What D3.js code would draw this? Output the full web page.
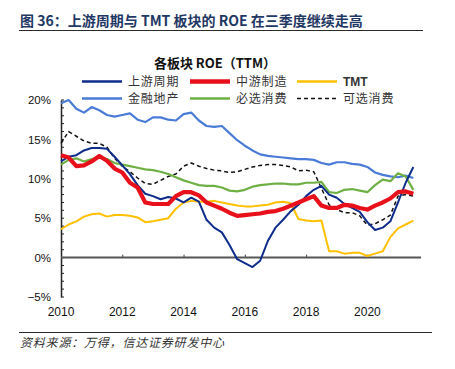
<!DOCTYPE html>
<html><head><meta charset="utf-8">
<script src="https://cdn.jsdelivr.net/npm/d3@7"></script>
<style>
html,body{margin:0;padding:0;background:#fff;}
svg{display:block;}
</style></head>
<body>
<script>
// quarterly data 2010Q1 .. 2021Q3
const startYear = 2010;
const upstream = [12.2,12.8,13.0,13.6,13.9,13.9,13.8,12.8,11.7,10.6,9.2,8.1,7.8,7.4,7.7,7.5,7.0,7.6,7.1,4.8,3.8,3.2,1.6,-0.2,-0.7,-1.2,-0.4,2.1,3.8,4.8,5.9,6.7,7.8,8.6,9.1,8.0,7.6,6.8,6.3,5.8,4.5,3.5,3.8,4.6,7.0,9.5,11.5];
const midstream = [13.0,12.7,11.6,11.7,12.2,12.9,12.3,11.3,10.8,9.5,8.9,7.0,6.8,6.8,6.8,7.8,8.3,8.3,7.9,7.0,6.6,6.2,5.7,5.3,5.4,5.5,5.6,5.8,5.9,6.2,6.6,7.0,7.4,7.8,6.6,6.3,6.3,6.7,6.6,6.3,6.1,6.6,7.0,7.5,8.3,8.4,8.1];
const tmt = [3.6,4.2,4.6,5.2,5.5,5.6,5.2,5.4,5.4,5.3,5.1,4.5,4.6,4.8,5.0,6.2,7.0,7.2,7.1,7.1,7.2,7.0,6.8,6.6,6.5,6.5,6.6,6.7,7.0,7.1,6.9,4.9,4.7,4.6,4.7,0.8,0.8,0.5,0.6,0.6,0.2,0.5,0.8,2.6,3.7,4.2,4.7];
const finance = [19.6,20.0,18.9,18.4,19.1,18.7,18.1,17.9,18.1,18.3,17.5,17.2,17.8,17.8,17.5,17.4,18.2,18.4,17.4,16.7,16.6,16.7,15.8,14.9,14.2,13.6,13.1,12.9,12.8,12.7,12.6,12.5,12.5,12.4,12.0,11.8,12.1,12.1,11.9,11.8,11.5,10.8,10.5,10.3,10.2,10.4,10.1];
const staples = [11.8,12.4,12.6,12.2,12.5,12.7,12.5,12.0,11.8,11.6,11.4,11.2,11.1,10.9,10.6,10.2,9.8,9.5,9.2,9.1,9.1,8.9,8.5,8.4,8.6,9.0,9.2,9.3,9.4,9.4,9.3,9.3,9.5,9.5,9.6,8.3,8.2,8.6,8.7,8.5,8.3,9.2,9.9,9.7,10.7,10.3,8.6];
const discretionary = [14.5,16.0,15.4,14.8,14.5,14.5,14.0,12.6,11.6,10.9,10.1,9.4,9.3,9.8,10.3,10.6,11.6,12.0,11.6,11.3,11.1,11.0,10.8,10.9,11.2,11.5,11.7,11.8,11.8,11.7,11.5,11.0,11.1,10.9,8.8,6.7,6.1,5.7,5.7,5.3,4.1,4.3,4.8,5.4,7.8,8.0,7.8];

const yTicks = [20,15,10,5,0,-5];
const xTicks = [2010,2012,2014,2016,2018,2020];
const seriesNames = ["上游周期","中游制造","TMT","金融地产","必选消费","可选消费"];
const figTitle = "图 36：上游周期与 TMT 板块的 ROE 在三季度继续走高";
const chartTitle = "各板块 ROE（TTM）";
const sourceText = "资料来源：万得，信达证券研发中心";

const quarters = upstream.map((_, i) => startYear + i * 0.25);

const series = [
  {name: seriesNames[0], values: upstream, color: "#0d2c8c", width: 2, dash: null},
  {name: seriesNames[1], values: midstream, color: "#e8101a", width: 4.2, dash: null},
  {name: seriesNames[2], values: tmt, color: "#ffc000", width: 2, dash: null},
  {name: seriesNames[3], values: finance, color: "#4a7bd6", width: 2.2, dash: null},
  {name: seriesNames[4], values: staples, color: "#6fb044", width: 2.2, dash: null},
  {name: seriesNames[5], values: discretionary, color: "#111", width: 1.5, dash: "4,3"}
];

const W = 455, H = 369;
const svg = d3.select("body").append("svg").attr("width", W).attr("height", H);

const cjk = "'Noto Sans CJK SC','Noto Sans',sans-serif";
const latin = "'Liberation Sans',Arial,sans-serif";

// figure title
svg.append("text").attr("x", 20).attr("y", 26)
  .attr("font-family", cjk).attr("font-weight", "bold").attr("font-size", 14)
  .attr("fill", "#1f3864").text(figTitle);
svg.append("line").attr("x1", 19).attr("x2", 423).attr("y1", 30.5).attr("y2", 30.5)
  .attr("stroke", "#2b2b2b").attr("stroke-width", 1.2);

// chart title
svg.append("text").attr("x", 215).attr("y", 68).attr("text-anchor", "middle")
  .attr("font-family", cjk).attr("font-weight", "bold").attr("font-size", 13)
  .attr("fill", "#111").text(chartTitle);

const x = d3.scaleLinear().domain([2010, 2021.75]).range([61, 421]);
const y = d3.scaleLinear().domain([-5, 20]).range([297, 100]);

// y axis
const yAxis = d3.axisLeft(y).tickValues(yTicks).tickSize(0).tickPadding(10)
  .tickFormat(d => (d < 0 ? "\u2212" + Math.abs(d) : d) + "%");
const gy = svg.append("g").attr("transform", "translate(61,0)").call(yAxis);
gy.select(".domain").attr("stroke", "#222").attr("stroke-width", 1.5);
gy.selectAll("text").attr("font-family", latin).attr("font-size", 11.5).attr("fill", "#111");
// minor ticks inward
svg.append("g").selectAll("line").data(d3.range(-5, 21, 1)).join("line")
  .attr("x1", 61).attr("x2", 64).attr("y1", d => y(d)).attr("y2", d => y(d))
  .attr("stroke", "#222").attr("stroke-width", 1);

// x axis at 0
const xAxis = d3.axisTop(x).tickValues(xTicks.slice(1)).tickSize(3).tickFormat("");
const gx = svg.append("g").attr("transform", `translate(0,${y(0)})`).call(xAxis);
gx.select(".domain").remove();
gx.selectAll("line").attr("stroke", "#444");
svg.append("line").attr("x1", x(2010)).attr("x2", x(2021.75)).attr("y1", y(0)).attr("y2", y(0))
  .attr("stroke", "#555").attr("stroke-width", 2);
svg.append("g").selectAll("text").data(xTicks).join("text")
  .attr("x", d => x(d)).attr("y", 316).attr("text-anchor", "middle")
  .attr("font-family", latin).attr("font-size", 12).attr("fill", "#111").text(d => d);

// lines
const line = d3.line().x((d, i) => x(quarters[i])).y(d => y(d));
const drawOrder = [3, 5, 4, 2, 0, 1];
drawOrder.forEach(k => {
  const s = series[k];
  svg.append("path").datum(s.values).attr("d", line)
    .attr("fill", "none").attr("stroke", s.color).attr("stroke-width", s.width)
    .attr("stroke-linejoin", "round")
    .attr("stroke-dasharray", s.dash);
});

// legend
const legX = [82, 190, 297];
const legY = [81.5, 98.5];
series.forEach((s, i) => {
  const col = i % 3, row = Math.floor(i / 3);
  const lx = legX[col], ly = legY[row];
  svg.append("line").attr("x1", lx).attr("x2", lx + 40).attr("y1", ly).attr("y2", ly)
    .attr("stroke", s.color).attr("stroke-width", s.width + (s.dash ? 0 : 0.3))
    .attr("stroke-dasharray", s.dash);
  svg.append("text").attr("x", lx + 46).attr("y", ly + 4.5)
    .attr("font-family", s.name === "TMT" ? latin : cjk)
    .attr("font-weight", s.name === "TMT" ? "bold" : "normal")
    .attr("letter-spacing", s.name === "TMT" ? 0 : 0.8)
    .attr("font-size", 12).attr("fill", "#333").text(s.name);
});

// source
svg.append("line").attr("x1", 19).attr("x2", 432).attr("y1", 332.5).attr("y2", 332.5)
  .attr("stroke", "#2b2b2b").attr("stroke-width", 1);
svg.append("text").attr("x", 20).attr("y", 347)
  .attr("font-family", cjk).attr("font-style", "italic").attr("font-size", 12)
  .attr("letter-spacing", 0.8)
  .attr("fill", "#333").text(sourceText);
</script>
</body></html>
